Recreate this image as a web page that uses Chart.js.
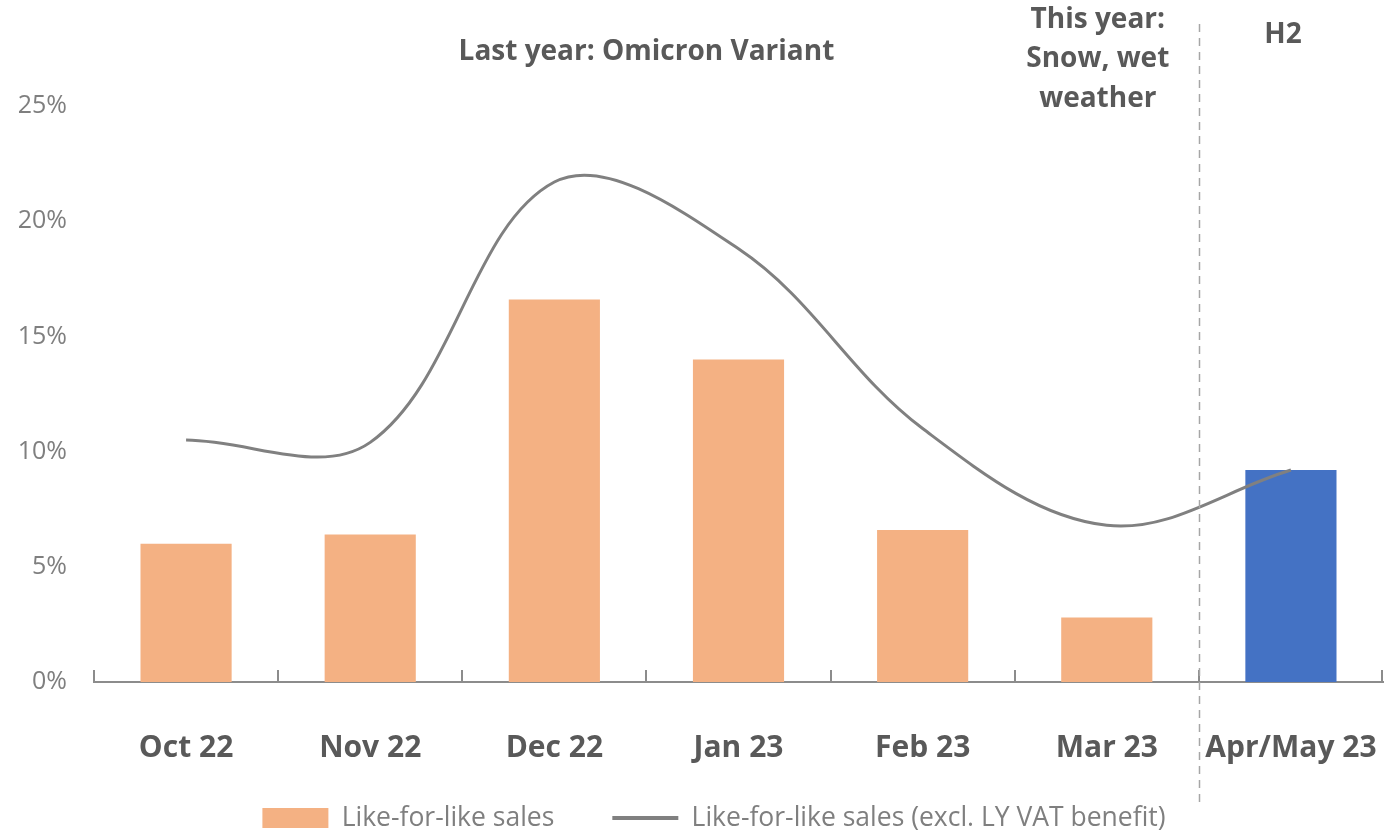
<!DOCTYPE html>
<html>
<head>
<meta charset="utf-8">
<script src="https://cdn.jsdelivr.net/npm/chart.js@4/dist/chart.umd.min.js"></script>
<style>
  html, body { margin: 0; padding: 0; background: #ffffff; }
  #wrap { position: relative; width: 1384px; height: 834px; }
</style>
</head>
<body>
<div id="wrap"><canvas id="c" width="1384" height="834"></canvas></div>
<script>
// Monthly like-for-like sales growth, %
const categories = ['Oct 22', 'Nov 22', 'Dec 22', 'Jan 23', 'Feb 23', 'Mar 23', 'Apr/May 23'];
const lflSales = [6.0, 6.4, 16.6, 14.0, 6.6, 2.8, 9.2];
const lflSalesExclVat = [10.5, 10.4, 21.7, 18.8, 11.0, 6.8, 9.2];
const yTickValues = [0, 5, 10, 15, 20, 25];

const seriesNames = ['Like-for-like sales', 'Like-for-like sales (excl. LY VAT benefit)'];
const h1Colour = '#F4B183';
const h2Colour = '#4472C4';
const lineColour = '#808080';
const textGrey = '#595959';
const FONT = "'Open Sans', Lato, sans-serif";
const LEGEND_FONT = 26.5;
const LEGEND_GAP = 58;

// First half months in orange, H2 month in blue
const barColours = categories.map((c, i) => i === categories.length - 1 ? h2Colour : h1Colour);

// The legend keeps a wide gap between its two items but only a thin strip
// under the axis labels; its box is moved into place once layout is done.
const legendPlacement = {
  id: 'legendPlacement',
  afterLayout(chart) {
    const lg = chart.legend;
    lg.left = 44;
    lg.right = chart.width;
    lg.top = 818 - LEGEND_FONT / 2 - LEGEND_GAP;
    lg.bottom = chart.height;
    lg.width = lg.right - lg.left;
    lg.height = lg.bottom - lg.top;
  }
};

// Annotations, period divider and inward axis ticks
const annotations = {
  id: 'annotations',
  afterDatasetsDraw(chart) {
    const { ctx, scales: { x }, chartArea } = chart;
    const n = categories.length;
    const step = x.getPixelForValue(1) - x.getPixelForValue(0);

    // tick marks at category boundaries, pointing up from the axis
    ctx.save();
    ctx.strokeStyle = '#8c8c8c';
    ctx.lineWidth = 2;
    for (let i = 0; i <= n; i++) {
      const px = Math.min(Math.round(x.getPixelForValue(i) - step / 2), chartArea.right - 1);
      ctx.beginPath();
      ctx.moveTo(px, chartArea.bottom);
      ctx.lineTo(px, chartArea.bottom - 12);
      ctx.stroke();
    }
    ctx.restore();

    // dashed divider between H1 and H2
    const divX = Math.round(x.getPixelForValue(n - 1) - step / 2) + 0.5;
    ctx.save();
    ctx.strokeStyle = '#a6a6a6';
    ctx.lineWidth = 1.5;
    ctx.setLineDash([8, 6]);
    ctx.beginPath();
    ctx.moveTo(divX, 24);
    ctx.lineTo(divX, 802);
    ctx.stroke();
    ctx.restore();

    // headline notes
    ctx.save();
    ctx.fillStyle = textGrey;
    ctx.font = 'bold 28px ' + FONT;
    ctx.textAlign = 'center';
    ctx.textBaseline = 'middle';
    const decJanX = (x.getPixelForValue(2) + x.getPixelForValue(3)) / 2;
    ctx.fillText('Last year: Omicron Variant', decJanX, 52);
    const marX = x.getPixelForValue(5) - 9;
    ctx.fillText('This year:', marX, 20);
    ctx.fillText('Snow, wet', marX, 59);
    ctx.fillText('weather', marX, 99);
    ctx.fillText('H2', x.getPixelForValue(6) - 8, 35);
    ctx.restore();
  }
};

new Chart(document.getElementById('c'), {
  type: 'bar',
  data: {
    labels: categories,
    datasets: [
      {
        type: 'bar',
        label: seriesNames[0],
        data: lflSales,
        backgroundColor: barColours,
        borderWidth: 0,
        barPercentage: 1.0,
        categoryPercentage: 0.495,
        order: 2
      },
      {
        type: 'line',
        label: seriesNames[1],
        data: lflSalesExclVat,
        borderColor: lineColour,
        borderWidth: 3,
        pointRadius: 0,
        tension: 0.36,
        fill: false,
        order: 1
      }
    ]
  },
  options: {
    responsive: false,
    animation: false,
    layout: { padding: { top: 106, right: 1, left: 0, bottom: 0 } },
    plugins: {
      tooltip: { enabled: false },
      legend: {
        position: 'bottom',
        maxHeight: 44,
        labels: {
          font: { family: FONT, size: LEGEND_FONT },
          color: '#7f7f7f',
          usePointStyle: true,
          pointStyleWidth: 66,
          boxHeight: 20,
          padding: LEGEND_GAP,
          generateLabels() {
            return [
              { text: seriesNames[0], pointStyle: 'rect', fillStyle: h1Colour, strokeStyle: h1Colour, lineWidth: 0, fontColor: '#7f7f7f', datasetIndex: 0 },
              { text: seriesNames[1], pointStyle: 'line', fillStyle: lineColour, strokeStyle: lineColour, lineWidth: 4, fontColor: '#7f7f7f', datasetIndex: 1 }
            ];
          }
        }
      }
    },
    scales: {
      x: {
        offset: true,
        grid: { display: false, drawTicks: false },
        border: { display: true, color: '#8c8c8c', width: 2 },
        ticks: {
          padding: 48,
          color: textGrey,
          font: { family: FONT, size: 30, weight: 'bold' },
          maxRotation: 0,
          autoSkip: false
        },
        afterFit(scale) {
          scale.height = 108;
          scale.paddingLeft = 0;
          scale.paddingRight = 0;
        }
      },
      y: {
        min: 0,
        max: 25,
        afterBuildTicks(scale) { scale.ticks = yTickValues.map(v => ({ value: v })); },
        grid: { display: false, drawTicks: false },
        border: { display: false },
        ticks: {
          padding: 27,
          color: '#7f7f7f',
          font: { family: FONT, size: 25 },
          callback: v => v + '%'
        },
        afterFit(scale) { scale.width = 94; }
      }
    }
  },
  plugins: [legendPlacement, annotations]
});
</script>
</body>
</html>
